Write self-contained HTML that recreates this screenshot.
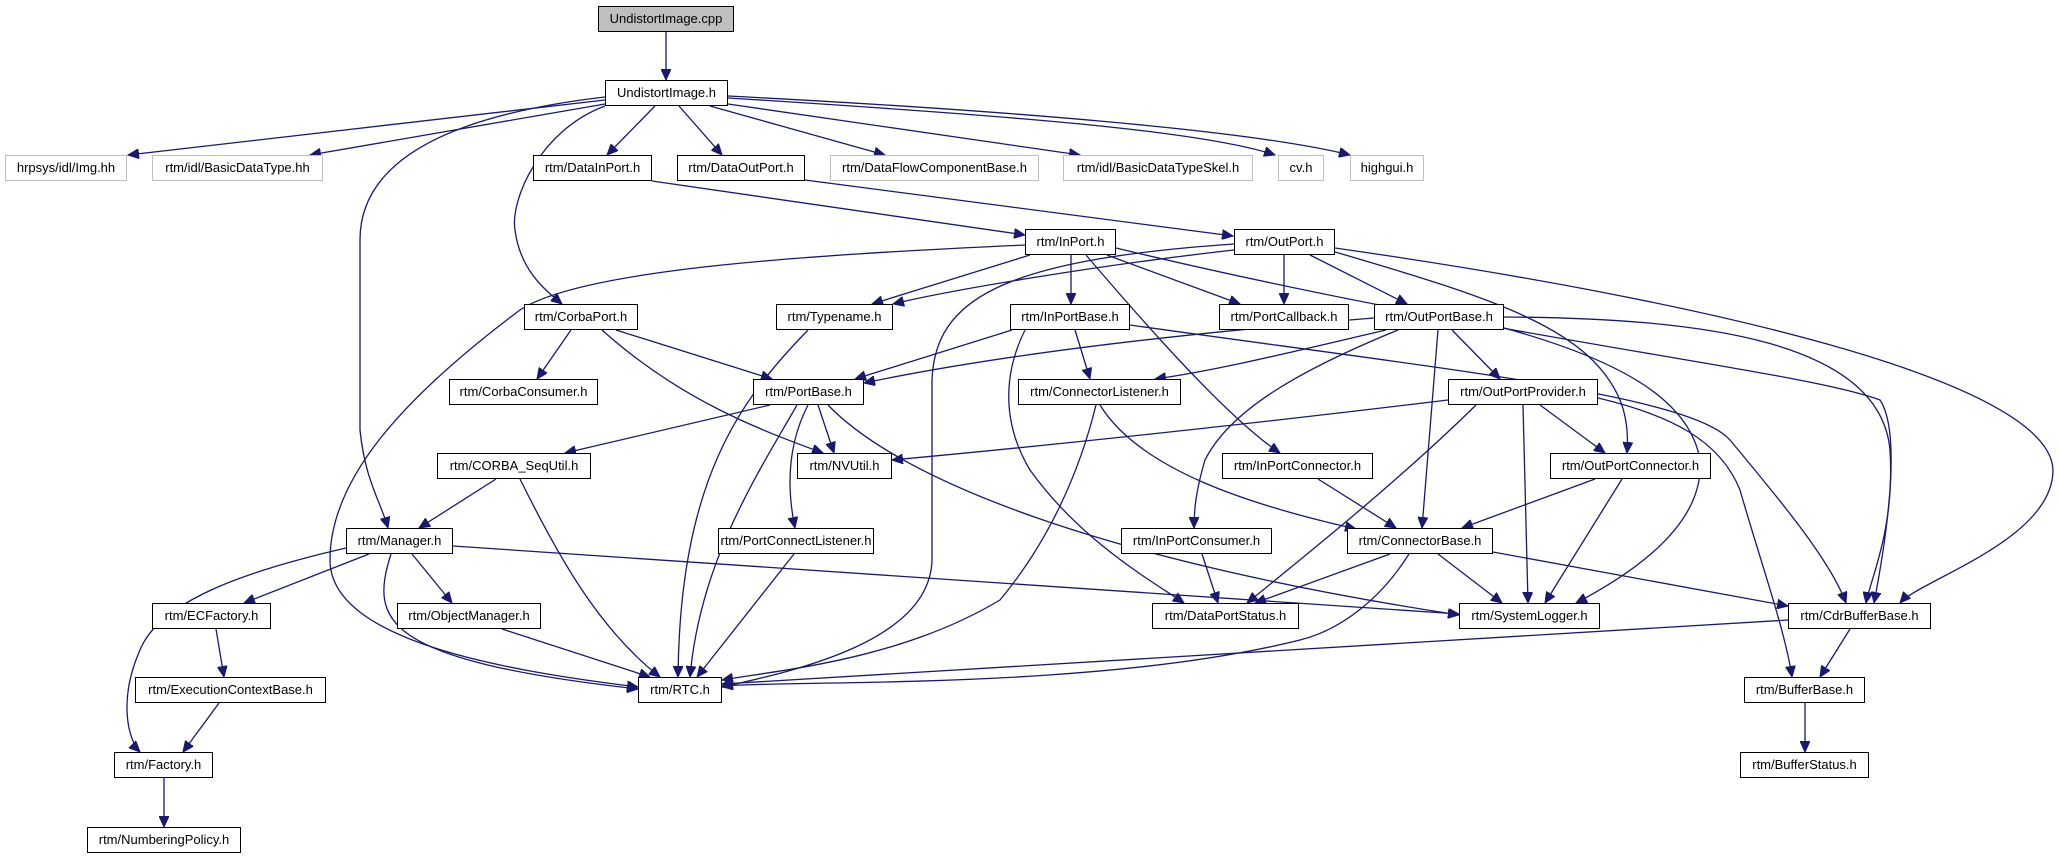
<!DOCTYPE html>
<html><head><meta charset="utf-8"><style>
body{margin:0;background:#fff;width:2059px;height:859px;position:relative;overflow:hidden}
.n{position:absolute;box-sizing:border-box;border:1px solid #000;background:#fff;font:13px "Liberation Sans",sans-serif;color:#000;text-align:center;white-space:nowrap;line-height:24px;height:26px}
.g{border-color:#bfbfbf}
svg{position:absolute;left:0;top:0}
path{fill:none;stroke:#191970;stroke-width:1.3}
</style></head><body>
<svg width="2059" height="859" viewBox="0 0 2059 859">
<defs><marker id="a" markerUnits="userSpaceOnUse" markerWidth="12" markerHeight="10" refX="11" refY="5" orient="auto"><path d="M0,0 L11,5 L0,10 Z" style="fill:#191970;stroke:#191970;stroke-width:1"/></marker></defs>
<g marker-end="url(#a)">
<path d="M666,32 L666,80"/>
<path d="M605,100 L128,155"/>
<path d="M605,104 L310,155"/>
<path d="M605,97 C450,115 360,160 360,240 L360,430 C365,480 380,500 388,528"/>
<path d="M605,106 C540,130 510,200 515,230 C520,270 545,290 562,304"/>
<path d="M655,106 L607,155"/>
<path d="M679,106 L722,155"/>
<path d="M710,106 L885,155"/>
<path d="M728,104 L1080,155"/>
<path d="M728,98 C1000,115 1200,130 1275,155"/>
<path d="M728,96 C1000,110 1250,130 1350,155"/>
<path d="M652,181 L1025,235"/>
<path d="M805,180 L1233,236"/>
<path d="M1025,245 C800,255 580,270 520,310 C400,400 330,480 330,560 C330,640 500,670 638,687"/>
<path d="M1030,255 L872,304"/>
<path d="M1071,255 L1071,304"/>
<path d="M1107,255 L1240,304"/>
<path d="M1086,255 C1150,330 1230,420 1280,453"/>
<path d="M1116,248 C1500,340 1800,370 1880,400 C1900,430 1890,520 1874,603"/>
<path d="M1335,248 C1700,300 2050,380 2053,470 C2053,540 1920,580 1900,603"/>
<path d="M1504,317 C1700,318 1880,340 1890,450 C1895,530 1870,580 1866,603"/>
<path d="M1130,325 C1450,370 1690,395 1730,440 C1780,500 1830,560 1846,603"/>
<path d="M1234,250 C1100,265 950,290 893,304"/>
<path d="M1234,244 C1000,260 935,300 932,380 L932,560 C930,640 800,670 722,687"/>
<path d="M1284,255 L1284,304"/>
<path d="M1310,255 L1407,304"/>
<path d="M1335,252 C1500,300 1590,330 1620,400 C1628,420 1628,440 1627,453"/>
<path d="M1374,318 C1100,340 950,365 864,383"/>
<path d="M1386,330 C1300,350 1220,370 1155,379"/>
<path d="M1398,330 C1300,370 1230,410 1205,460 C1196,490 1194,510 1194,528"/>
<path d="M1438,330 L1422,528"/>
<path d="M1452,330 L1500,379"/>
<path d="M1504,328 C1620,360 1690,400 1700,460 C1705,530 1620,580 1576,603"/>
<path d="M1448,400 C1200,430 1000,450 892,460"/>
<path d="M1476,405 C1400,480 1300,560 1247,603"/>
<path d="M1523,405 L1528,603"/>
<path d="M1540,405 L1605,453"/>
<path d="M1598,398 C1670,415 1720,440 1740,490 C1760,560 1785,630 1792,677"/>
<path d="M1595,479 L1462,528"/>
<path d="M1622,479 L1545,603"/>
<path d="M1318,479 L1396,528"/>
<path d="M1100,405 C1140,470 1250,505 1356,529"/>
<path d="M1096,405 C1080,470 1050,540 1000,600 C900,660 780,670 722,680"/>
<path d="M1390,554 L1255,603"/>
<path d="M1438,554 L1502,603"/>
<path d="M1493,552 L1788,606"/>
<path d="M1409,554 C1380,600 1340,630 1300,640 C1100,690 800,680 722,686"/>
<path d="M1788,620 L722,684"/>
<path d="M1850,629 L1820,677"/>
<path d="M1805,703 L1805,752"/>
<path d="M1202,554 L1218,603"/>
<path d="M1025,330 C1005,370 1000,420 1030,470 C1080,540 1150,580 1184,603"/>
<path d="M1012,330 L855,379"/>
<path d="M1075,330 L1090,379"/>
<path d="M770,405 L565,453"/>
<path d="M818,405 L834,453"/>
<path d="M602,330 C680,400 760,430 823,453"/>
<path d="M797,405 C760,470 700,560 690,677"/>
<path d="M808,330 C740,400 680,480 678,677"/>
<path d="M808,405 C790,440 785,480 795,528"/>
<path d="M828,405 C900,480 1100,560 1459,615"/>
<path d="M571,330 L537,379"/>
<path d="M616,330 L772,379"/>
<path d="M496,479 L419,528"/>
<path d="M520,479 C560,560 600,630 660,677"/>
<path d="M794,554 L697,677"/>
<path d="M369,554 L244,603"/>
<path d="M412,554 L452,603"/>
<path d="M391,554 C370,620 380,660 638,689"/>
<path d="M346,548 C250,570 160,600 140,650 C118,700 128,740 140,752"/>
<path d="M453,546 L1459,614"/>
<path d="M502,629 L650,677"/>
<path d="M216,629 L224,677"/>
<path d="M219,703 L183,752"/>
<path d="M164,778 L164,827"/>
</g>
</svg>
<div class="n" style="left:598px;top:6px;width:136px;background:#bfbfbf">UndistortImage.cpp</div>
<div class="n" style="left:605px;top:80px;width:123px">UndistortImage.h</div>
<div class="n g" style="left:5px;top:155px;width:122px">hrpsys/idl/Img.hh</div>
<div class="n g" style="left:152px;top:155px;width:171px">rtm/idl/BasicDataType.hh</div>
<div class="n" style="left:533px;top:155px;width:119px">rtm/DataInPort.h</div>
<div class="n" style="left:677px;top:155px;width:128px">rtm/DataOutPort.h</div>
<div class="n g" style="left:830px;top:155px;width:209px">rtm/DataFlowComponentBase.h</div>
<div class="n g" style="left:1063px;top:155px;width:190px">rtm/idl/BasicDataTypeSkel.h</div>
<div class="n g" style="left:1278px;top:155px;width:46px">cv.h</div>
<div class="n g" style="left:1350px;top:155px;width:74px">highgui.h</div>
<div class="n" style="left:1025px;top:229px;width:91px">rtm/InPort.h</div>
<div class="n" style="left:1234px;top:229px;width:101px">rtm/OutPort.h</div>
<div class="n" style="left:524px;top:304px;width:114px">rtm/CorbaPort.h</div>
<div class="n" style="left:776px;top:304px;width:117px">rtm/Typename.h</div>
<div class="n" style="left:1010px;top:304px;width:120px">rtm/InPortBase.h</div>
<div class="n" style="left:1219px;top:304px;width:130px">rtm/PortCallback.h</div>
<div class="n" style="left:1374px;top:304px;width:130px">rtm/OutPortBase.h</div>
<div class="n" style="left:449px;top:379px;width:149px">rtm/CorbaConsumer.h</div>
<div class="n" style="left:753px;top:379px;width:111px">rtm/PortBase.h</div>
<div class="n" style="left:1018px;top:379px;width:163px">rtm/ConnectorListener.h</div>
<div class="n" style="left:1448px;top:379px;width:150px">rtm/OutPortProvider.h</div>
<div class="n" style="left:437px;top:453px;width:154px">rtm/CORBA_SeqUtil.h</div>
<div class="n" style="left:797px;top:453px;width:95px">rtm/NVUtil.h</div>
<div class="n" style="left:1222px;top:453px;width:151px">rtm/InPortConnector.h</div>
<div class="n" style="left:1550px;top:453px;width:161px">rtm/OutPortConnector.h</div>
<div class="n" style="left:346px;top:528px;width:107px">rtm/Manager.h</div>
<div class="n" style="left:718px;top:528px;width:156px">rtm/PortConnectListener.h</div>
<div class="n" style="left:1121px;top:528px;width:151px">rtm/InPortConsumer.h</div>
<div class="n" style="left:1347px;top:528px;width:146px">rtm/ConnectorBase.h</div>
<div class="n" style="left:152px;top:603px;width:119px">rtm/ECFactory.h</div>
<div class="n" style="left:397px;top:603px;width:144px">rtm/ObjectManager.h</div>
<div class="n" style="left:1152px;top:603px;width:147px">rtm/DataPortStatus.h</div>
<div class="n" style="left:1459px;top:603px;width:141px">rtm/SystemLogger.h</div>
<div class="n" style="left:1788px;top:603px;width:143px">rtm/CdrBufferBase.h</div>
<div class="n" style="left:135px;top:677px;width:191px">rtm/ExecutionContextBase.h</div>
<div class="n" style="left:638px;top:677px;width:84px">rtm/RTC.h</div>
<div class="n" style="left:1744px;top:677px;width:121px">rtm/BufferBase.h</div>
<div class="n" style="left:114px;top:752px;width:99px">rtm/Factory.h</div>
<div class="n" style="left:1740px;top:752px;width:129px">rtm/BufferStatus.h</div>
<div class="n" style="left:87px;top:827px;width:154px">rtm/NumberingPolicy.h</div>
</body></html>
